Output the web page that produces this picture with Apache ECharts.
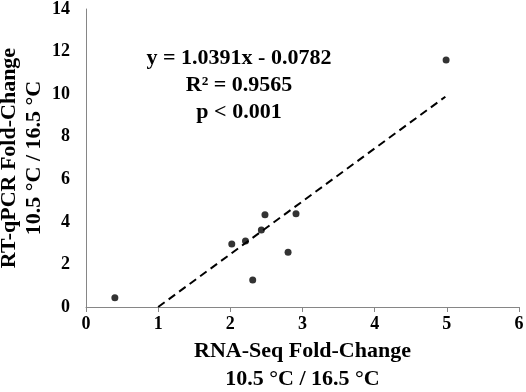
<!DOCTYPE html>
<html><head><meta charset="utf-8">
<script src="https://cdn.jsdelivr.net/npm/echarts@6/dist/echarts.min.js"></script>
<style>html,body{margin:0;padding:0;background:#fff}#c{width:526px;height:392px}</style>
</head><body><div id="c"></div>
<script>
var rnaSeq = [0.40, 2.02, 2.21, 2.31, 2.43, 2.48, 2.80, 2.91, 4.99];
var rtqpcr = [0.43, 2.96, 3.10, 1.27, 3.62, 4.33, 2.57, 4.38, 11.60];
var trendX = [1.0, 4.98];
var trendY = [0.0, 9.88];
var xTicks = [0, 1, 2, 3, 4, 5, 6];
var yTicks = [0, 2, 4, 6, 8, 10, 12, 14];
var annotation = ['y = 1.0391x - 0.0782', 'R² = 0.9565', 'p < 0.001'];
var xTitle = 'RNA-Seq Fold-Change\n10.5 °C / 16.5 °C';
var yTitle = 'RT-qPCR Fold-Change\n10.5 °C / 16.5 °C';

var font = 'Liberation Serif';
var chart = echarts.init(document.getElementById('c'));
chart.setOption({
  animation: false,
  grid: {left: 86, right: 7, top: 9, bottom: 85, containLabel: false, outerBoundsMode: 'none'},
  xAxis: {
    type: 'value', min: xTicks[0], max: xTicks[xTicks.length-1], interval: 1,
    splitLine: {show: false},
    axisLine: {lineStyle: {color: '#868686', width: 1}},
    axisTick: {show: true, length: 5, lineStyle: {color: '#868686'}},
    axisLabel: {fontFamily: font, fontWeight: 'bold', fontSize: 18, color: '#000', margin: 8},
    name: xTitle, nameLocation: 'middle', nameGap: 30, nameMoveOverlap: false,
    nameTextStyle: {fontFamily: font, fontWeight: 'bold', fontSize: 22, color: '#000', lineHeight: 28, verticalAlign: 'top'}
  },
  yAxis: {
    type: 'value', min: yTicks[0], max: yTicks[yTicks.length-1], interval: 2,
    splitLine: {show: false},
    axisLine: {show: true, lineStyle: {color: '#868686', width: 1}},
    axisTick: {show: false},
    axisLabel: {fontFamily: font, fontWeight: 'bold', fontSize: 18, color: '#000', margin: 16},
    name: yTitle, nameLocation: 'middle', nameGap: 39, nameRotate: 90, nameMoveOverlap: false,
    nameTextStyle: {fontFamily: font, fontWeight: 'bold', fontSize: 22, color: '#000', lineHeight: 25}
  },
  series: [
    {type: 'line', data: trendX.map(function(x,i){return [x, trendY[i]];}),
     symbol: 'none', lineStyle: {color: '#000', width: 2, type: [8,5]}, silent: true, z: 1},
    {type: 'scatter', data: rnaSeq.map(function(x,i){return [x, rtqpcr[i]];}),
     symbol: 'circle', symbolSize: 7, itemStyle: {color: '#000'}, z: 2}
  ],
  graphic: [{
    type: 'text', x: 239, y: 45,
    style: {text: annotation.join('\n'), font: 'bold 22px "Liberation Serif"', fill: '#000',
            textAlign: 'center', lineHeight: 27}
  }]
});
</script></body></html>
